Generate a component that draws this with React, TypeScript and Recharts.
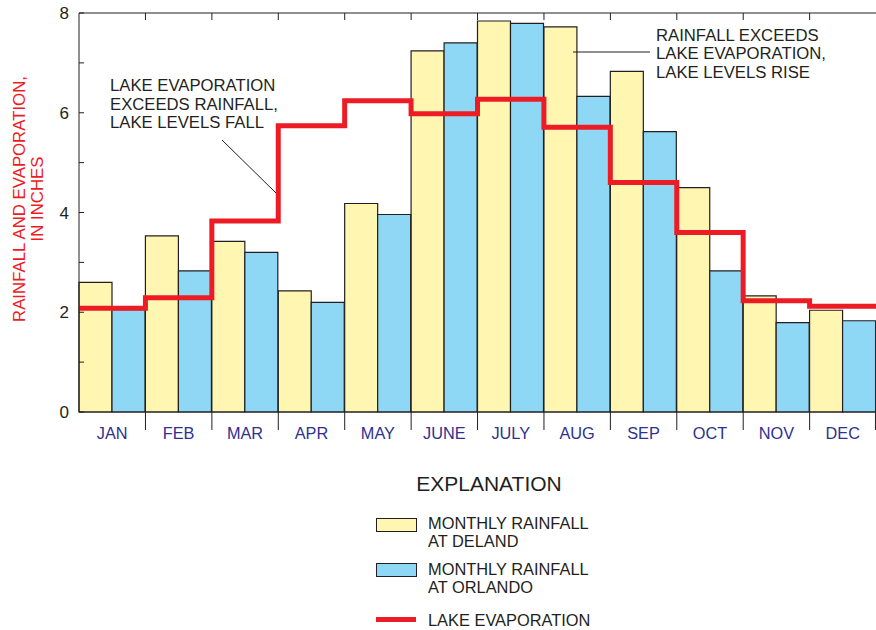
import React from "react";
import { Bar, ComposedChart, Line, ReferenceLine, XAxis, YAxis } from "recharts";

const months = ["JAN", "FEB", "MAR", "APR", "MAY", "JUNE", "JULY", "AUG", "SEP", "OCT", "NOV", "DEC"];
const delandRain = [2.6, 3.53, 3.42, 2.43, 4.18, 7.24, 7.84, 7.72, 6.83, 4.5, 2.33, 2.04];
const orlandoRain = [2.05, 2.83, 3.2, 2.2, 3.96, 7.4, 7.79, 6.33, 5.62, 2.83, 1.79, 1.83];
const lakeEvap = [2.08, 2.29, 3.83, 5.74, 6.24, 5.98, 6.27, 5.71, 4.6, 3.6, 2.23, 2.12];
const yTicks = [0, 1, 2, 3, 4, 5, 6, 7, 8];
const yLabelTicks = [0, 2, 4, 6, 8];

const data = months.map((m, i) => ({ month: m, deland: delandRain[i], orlando: orlandoRain[i] }));
// step line runs on month boundaries 0..12, last value repeated to close december
const evapSteps = [...lakeEvap, lakeEvap[lakeEvap.length - 1]].map((v, i) => ({ x: i, evap: v }));

const W = 876;
const H = 450;
const PLOT_LEFT = 79;
const PLOT_RIGHT = 875;
const PLOT_TOP = 13;
const PLOT_BOTTOM = 412;
const BAND = (PLOT_RIGHT - PLOT_LEFT) / months.length;

const INK = "#231f20";
const RED = "#ed1c24";
const YELLOW = "#fff7b1";
const BLUE = "#8ed8f6";
const MONTH_BLUE = "#2e3192";
const FONT = "'Liberation Sans', Arial, Helvetica, sans-serif";

function MonthTick(props: any) {
  const { x, y, payload, index } = props;
  const left = x - BAND / 2;
  const top = y - (PLOT_BOTTOM - PLOT_TOP);
  const last = index === months.length - 1;
  return (
    <g>
      {index > 0 && <line x1={left} x2={left} y1={y} y2={y + 18} stroke={INK} strokeWidth={1} />}
      {index > 0 && <line x1={left} x2={left} y1={top} y2={top + 7} stroke={INK} strokeWidth={1} />}
      {last && <line x1={x + BAND / 2 - 0.5} x2={x + BAND / 2 - 0.5} y1={y} y2={y + 18} stroke={INK} strokeWidth={1} />}
      <text x={x} y={y + 27} textAnchor="middle" fill={MONTH_BLUE} fontSize={16.3} fontFamily={FONT}>
        {payload.value}
      </text>
    </g>
  );
}

function ValueTick(props: any) {
  const { x, y, payload } = props;
  return (
    <g>
      <line x1={x} x2={x + 5} y1={y} y2={y} stroke={INK} strokeWidth={1} />
      {yLabelTicks.includes(payload.value) && (
        <text x={x - 10} y={y + 6} textAnchor="end" fill={INK} fontSize={17} fontFamily={FONT}>
          {payload.value}
        </text>
      )}
    </g>
  );
}

function AxisTitle() {
  const cy = 199;
  return (
    <g fill={RED} fontSize={16.8} fontFamily={FONT} textAnchor="middle">
      <text transform={`translate(25, ${cy}) rotate(-90)`}>RAINFALL AND EVAPORATION,</text>
      <text transform={`translate(43, ${cy}) rotate(-90)`}>IN INCHES</text>
    </g>
  );
}

const noteStyle: React.CSSProperties = { fontFamily: FONT, fontSize: 16.7, fill: INK } as any;
const legendText: React.CSSProperties = { position: "absolute", left: 428, fontSize: 16.4, lineHeight: "18px", color: INK };

export default function App() {
  return (
    <div style={{ position: "absolute", left: 0, top: 0, width: W, height: 630, background: "#fff", fontFamily: FONT }}>
      <ComposedChart
        width={W}
        height={H}
        data={data}
        margin={{ top: PLOT_TOP, right: 0, bottom: 8, left: 49 }}
        barCategoryGap={0}
        barGap={0}
      >
        <XAxis
          dataKey="month"
          height={30}
          tickSize={0}
          tickMargin={0}
          tick={<MonthTick />}
          axisLine={{ stroke: INK, strokeWidth: 1 }}
          interval={0}
        />
        <XAxis xAxisId="step" type="number" dataKey="x" domain={[0, 12]} hide />
        <YAxis
          width={30}
          domain={[0, 8]}
          ticks={yTicks}
          interval={0}
          tickSize={0}
          tickMargin={0}
          tick={<ValueTick />}
          axisLine={{ stroke: INK, strokeWidth: 1 }}
          label={{ content: () => <AxisTitle /> }}
        />
        <YAxis
          yAxisId="r"
          orientation="right"
          width={1}
          domain={[0, 8]}
          ticks={yTicks}
          interval={0}
          mirror
          tickSize={5}
          tick={false}
          tickLine={{ stroke: INK, strokeWidth: 1 }}
          axisLine={false}
        />
        <ReferenceLine y={8} stroke={INK} strokeWidth={1} />
        <Bar dataKey="deland" fill={YELLOW} stroke={INK} strokeWidth={1.2} isAnimationActive={false} />
        <Bar dataKey="orlando" fill={BLUE} stroke={INK} strokeWidth={1.2} isAnimationActive={false} />
        <Line
          xAxisId="step"
          data={evapSteps}
          dataKey="evap"
          type="stepAfter"
          stroke={RED}
          strokeWidth={5}
          strokeLinecap="butt"
          strokeLinejoin="miter"
          dot={false}
          activeDot={false}
          isAnimationActive={false}
        />
      </ComposedChart>

      <svg width={W} height={H} style={{ position: "absolute", left: 0, top: 0, pointerEvents: "none" }}>
        <g style={noteStyle}>
          <text x={110} y={91}>LAKE EVAPORATION</text>
          <text x={110} y={110}>EXCEEDS RAINFALL,</text>
          <text x={110} y={128}>LAKE LEVELS FALL</text>
          <text x={656} y={41}>RAINFALL EXCEEDS</text>
          <text x={656} y={59}>LAKE EVAPORATION,</text>
          <text x={656} y={78}>LAKE LEVELS RISE</text>
        </g>
        <line x1={222} y1={140} x2={276} y2={193} stroke={INK} strokeWidth={1} />
        <line x1={573} y1={52} x2={650} y2={52} stroke={INK} strokeWidth={1} />
      </svg>

      <div style={{ position: "absolute", left: 389, top: 472, width: 200, textAlign: "center", fontSize: 21, color: INK, lineHeight: "24px" }}>
        EXPLANATION
      </div>
      <div style={{ position: "absolute", left: 376, top: 518, width: 39, height: 12, background: YELLOW, border: `1px solid ${INK}` }} />
      <div style={{ ...legendText, top: 514 }}>
        MONTHLY RAINFALL
        <br />
        AT DELAND
      </div>
      <div style={{ position: "absolute", left: 376, top: 563, width: 39, height: 12, background: BLUE, border: `1px solid ${INK}` }} />
      <div style={{ ...legendText, top: 560 }}>
        MONTHLY RAINFALL
        <br />
        AT ORLANDO
      </div>
      <div style={{ position: "absolute", left: 376, top: 617, width: 40, height: 5, background: RED }} />
      <div style={{ ...legendText, top: 611 }}>LAKE EVAPORATION</div>
    </div>
  );
}
